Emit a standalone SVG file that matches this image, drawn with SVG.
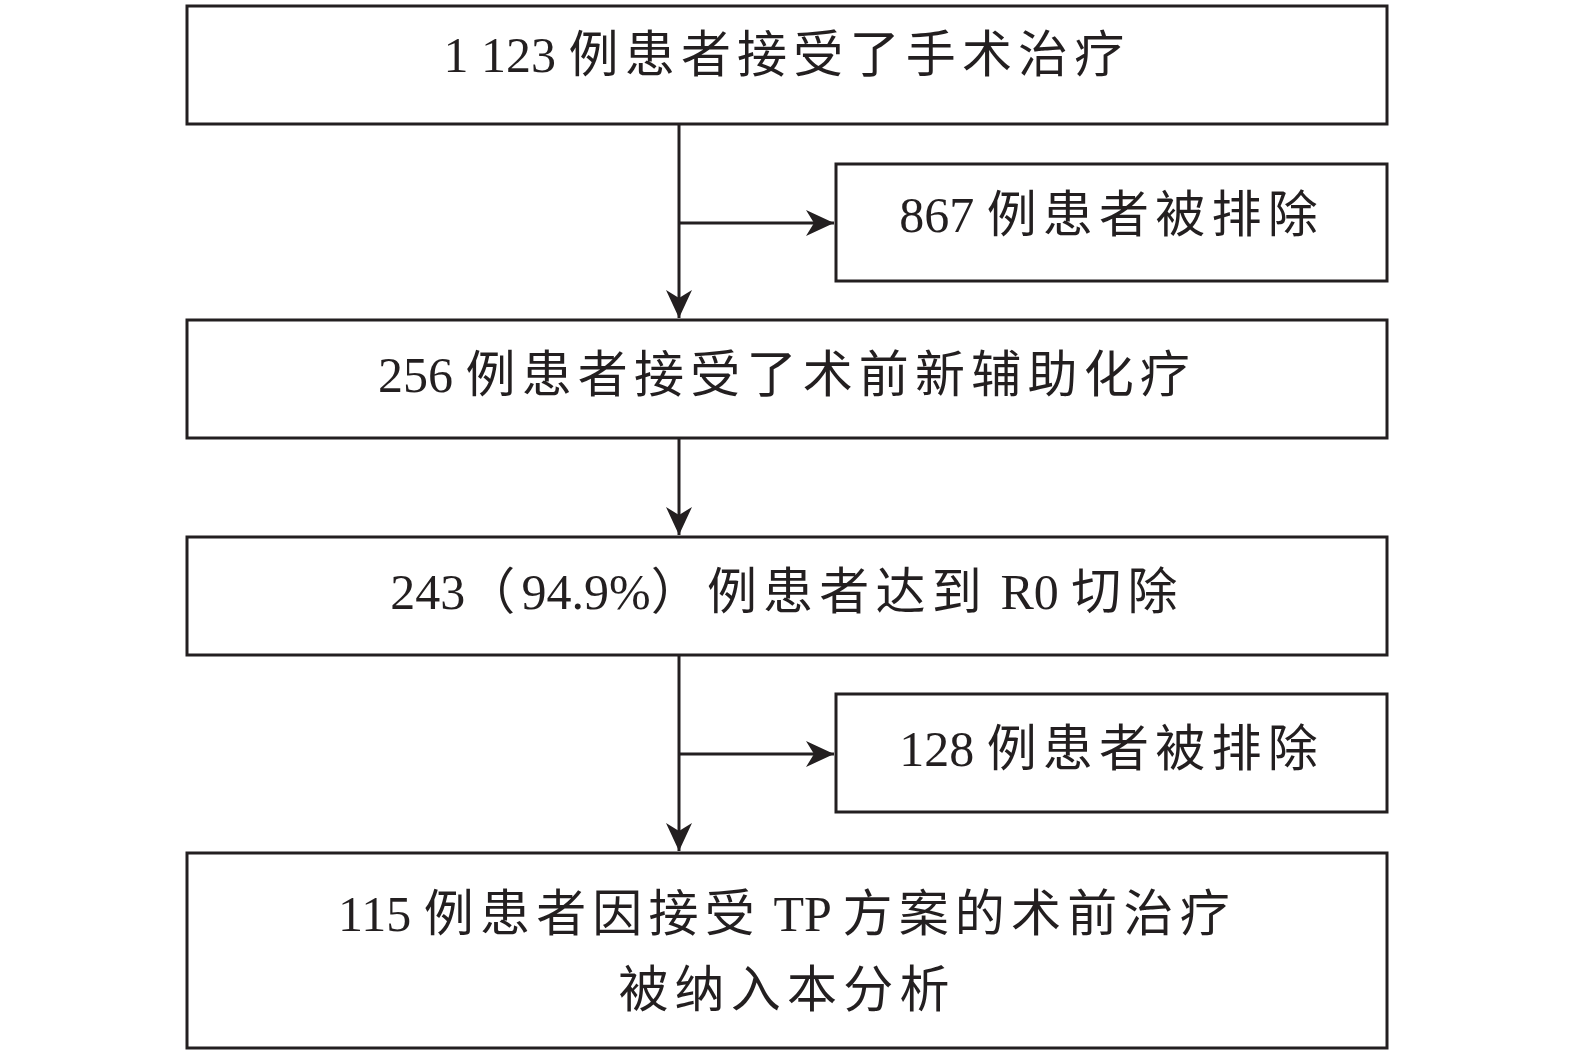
<svg xmlns="http://www.w3.org/2000/svg" width="1575" height="1055" viewBox="0 0 1575 1055">
<style>
.box{fill:#ffffff;stroke:#231f20;stroke-width:3}
.ln{fill:none;stroke:#231f20;stroke-width:3}
.t{font-family:"Liberation Serif","Noto Sans CJK SC",serif;font-size:50px;fill:#231f20;text-anchor:middle}
.c{font-family:"Noto Sans CJK SC","Liberation Serif",sans-serif;font-size:50px;letter-spacing:6.2px}
</style>
<defs>
<marker id="ah" markerUnits="userSpaceOnUse" viewBox="-30 -15 32 30" refX="0" refY="0" markerWidth="32" markerHeight="30" orient="auto">
<path d="M0,0 L-28,-13 L-20,0 L-28,13 Z" fill="#231f20"/>
</marker>
</defs>
<rect width="1575" height="1055" fill="#ffffff"/>
<g id="connectors">
<line class="ln" x1="679" y1="124" x2="679" y2="318" marker-end="url(#ah)"/>
<line class="ln" x1="679" y1="223" x2="834" y2="223" marker-end="url(#ah)"/>
<line class="ln" x1="679" y1="438" x2="679" y2="535" marker-end="url(#ah)"/>
<line class="ln" x1="679" y1="655" x2="679" y2="851" marker-end="url(#ah)"/>
<line class="ln" x1="679" y1="754" x2="834" y2="754" marker-end="url(#ah)"/>
</g>
<g id="n1">
<rect class="box" x="187" y="6" width="1200" height="118"/>
<text class="t" x="787" y="71.5">1 123 <tspan class="c">例患者接受了手术治疗</tspan></text>
</g>
<g id="n2">
<rect class="box" x="836" y="164" width="551" height="117"/>
<text class="t" x="1111.5" y="232">867 <tspan class="c">例患者被排除</tspan></text>
</g>
<g id="n3">
<rect class="box" x="187" y="320" width="1200" height="118"/>
<text class="t" x="787" y="392">256 <tspan class="c">例患者接受了术前新辅助化疗</tspan></text>
</g>
<g id="n4">
<rect class="box" x="187" y="537" width="1200" height="118"/>
<text class="t" x="787" y="609">243<tspan class="c">（</tspan>94.9%<tspan class="c">）例患者达到</tspan> R0 <tspan class="c">切除</tspan></text>
</g>
<g id="n5">
<rect class="box" x="836" y="694" width="551" height="118"/>
<text class="t" x="1111.5" y="766">128 <tspan class="c">例患者被排除</tspan></text>
</g>
<g id="n6">
<rect class="box" x="187" y="853" width="1200" height="195"/>
<text class="t" x="787" y="931">115 <tspan class="c">例患者因接受</tspan> TP <tspan class="c">方案的术前治疗</tspan></text>
<text class="t" x="787" y="1007"><tspan class="c">被纳入本分析</tspan></text>
</g>
</svg>
